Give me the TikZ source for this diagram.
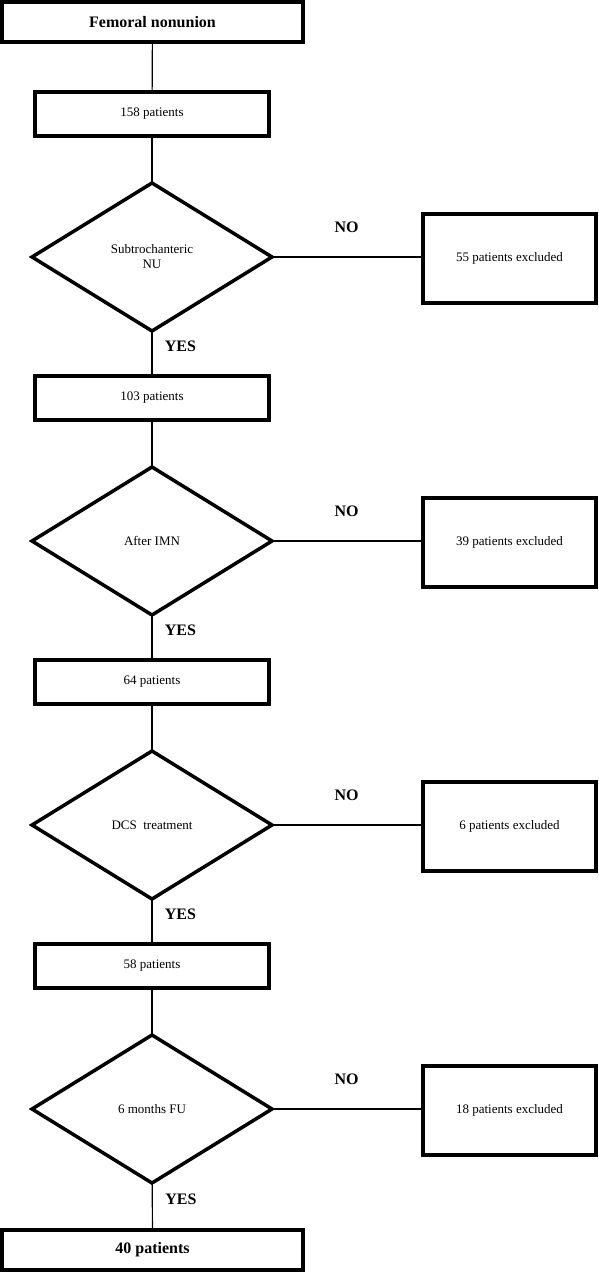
\documentclass[tikz,border=0pt]{standalone}
\usepackage{fontspec}
\setmainfont{Liberation Serif}
\usetikzlibrary{shapes.geometric}
\begin{document}
\begin{tikzpicture}[x=1pt, y=-1pt,
  box/.style={draw, line width=3.5pt, minimum width=234pt, minimum height=44pt, font=\fontsize{13}{15}\selectfont},
  endbox/.style={box, minimum width=301pt, minimum height=40pt, font=\fontsize{16}{19}\selectfont\bfseries},
  test/.style={draw, diamond, line width=3.5pt, outer sep=0pt, minimum width=240pt, minimum height=148pt, align=center, font=\fontsize{13}{15}\selectfont},
  outbox/.style={box, minimum width=173pt, minimum height=89pt},
  lbl/.style={font=\fontsize{16}{19}\selectfont\bfseries},
  link/.style={line width=1.2pt}]
\useasboundingbox (0,0) rectangle (599,1273);
% Main column
\node[endbox] (start) at (152.5,22) {Femoral nonunion};
\node[box] (n158) at (152,114) {158 patients};
\node[test] (subtro) at (152,257) {Subtrochanteric\\NU};
\node[box] (n103) at (152,398) {103 patients};
\node[test] (imn) at (152,541) {After IMN};
\node[box] (n64) at (152,682) {64 patients};
\node[test] (dcs) at (152,825) {DCS~~treatment};
\node[box] (n58) at (152,966) {58 patients};
\node[test] (fu) at (152,1109) {6 months FU};
\node[endbox] (n40) at (152.5,1250) {40 patients};
% Exclusions
\node[outbox] (ex55) at (509.5,258.5) {55 patients excluded};
\node[outbox] (ex39) at (509.5,542.5) {39 patients excluded};
\node[outbox] (ex6) at (509.5,826.5) {6 patients excluded};
\node[outbox] (ex18) at (509.5,1110.5) {18 patients excluded};
% Links
\draw[link] (start) -- (n158);
\draw[link] (n158) -- (subtro);
\draw[link] (subtro) -- node[lbl, midway, right=9pt, yshift=6pt] {YES} (n103);
\draw[link] (n103) -- (imn);
\draw[link] (imn) -- node[lbl, midway, right=9pt, yshift=6pt] {YES} (n64);
\draw[link] (n64) -- (dcs);
\draw[link] (dcs) -- node[lbl, midway, right=9pt, yshift=6pt] {YES} (n58);
\draw[link] (n58) -- (fu);
\draw[link] (fu) -- node[lbl, midway, right=9pt, yshift=6pt] {YES} (n40);
\draw[link] (subtro.east) -- node[lbl, midway, yshift=30pt] {NO} (ex55.west |- subtro.east);
\draw[link] (imn.east) -- node[lbl, midway, yshift=30pt] {NO} (ex39.west |- imn.east);
\draw[link] (dcs.east) -- node[lbl, midway, yshift=30pt] {NO} (ex6.west |- dcs.east);
\draw[link] (fu.east) -- node[lbl, midway, yshift=30pt] {NO} (ex18.west |- fu.east);
\end{tikzpicture}
\end{document}
